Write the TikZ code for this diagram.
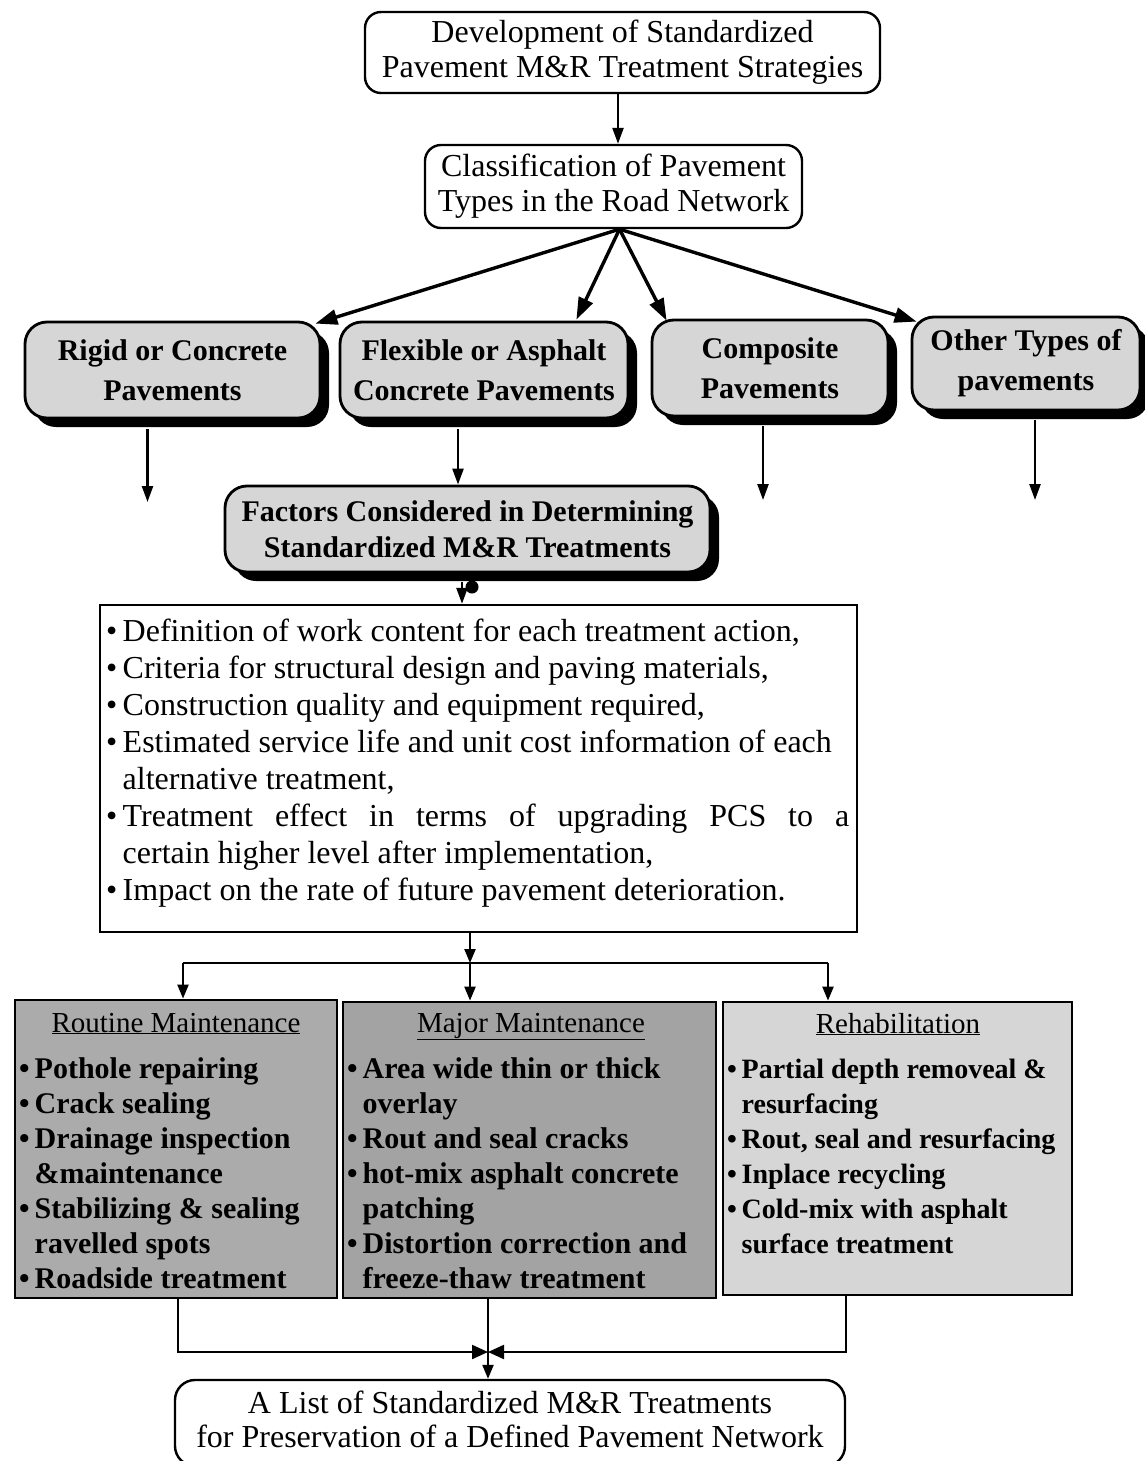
\documentclass[tikz,border=0pt]{standalone}
\usepackage{fontspec}
\setmainfont{Liberation Serif}
\usetikzlibrary{arrows.meta,shadows,calc}

\begin{document}
\begin{tikzpicture}[x=1pt,y=-1pt,
  titlebox/.style={draw, line width=2.4pt, rounded corners=16pt, align=center,
    inner sep=0pt, font=\fontsize{32}{35}\selectfont},
  pavebox/.style={draw, line width=2.8pt, rounded corners=22pt, fill=black!16,
    align=center, inner sep=0pt, font=\bfseries\fontsize{30}{40}\selectfont,
    general shadow={fill=black, shadow xshift=9pt, shadow yshift=-9pt}},
  listbox/.style={draw, line width=2.4pt, inner sep=0pt},
  groupbox/.style={draw, line width=2.8pt, inner sep=0pt},
  headtext/.style={inner sep=0pt, anchor=base, font=\fontsize{29}{34}\selectfont},
  itemtext/.style={inner sep=0pt, align=left, anchor=north west,
    font=\bfseries\fontsize{30}{35}\selectfont},
  arr/.style={line width=2.4pt, -{Triangle[length=16pt,width=11pt]}},
  fanarr/.style={line width=3.4pt, -{Triangle[length=22pt,width=15pt]}},
  thin arr/.style={line width=2.2pt, -{Triangle[length=14pt,width=11pt]}},
  merge arr/.style={line width=2.2pt, -{Triangle[length=16pt,width=14pt]}},
  link/.style={line width=2.2pt}
]
\useasboundingbox (0,0) rectangle (1144,1461);

% ---- top of the chart
\node[titlebox, minimum width=515pt, minimum height=81pt] (dev) at (622.5,52.5)
  {Development of Standardized\\Pavement M\&R Treatment Strategies};
\node[titlebox, minimum width=377pt, minimum height=83pt] (cls) at (613.5,186.5)
  {Classification of Pavement\\Types in the Road Network};

% ---- pavement types
\node[pavebox, minimum width=295pt, minimum height=96pt] (rigid) at (172.5,370)
  {Rigid or Concrete\\Pavements};
\node[pavebox, minimum width=288pt, minimum height=96pt] (flex) at (484,370)
  {Flexible or Asphalt\\Concrete Pavements};
\node[pavebox, minimum width=236pt, minimum height=96pt] (comp) at (770,368)
  {Composite\\Pavements};
\node[pavebox, minimum width=228pt, minimum height=93pt] (other) at (1026,363.5)
  {Other Types of\\pavements};

% ---- factors
\node[pavebox, minimum width=485pt, minimum height=86pt,
  font=\bfseries\fontsize{30}{36}\selectfont] (fac) at (467.5,529)
  {Factors Considered in Determining\\Standardized M\&R Treatments};

\node[listbox, minimum width=757pt, minimum height=327pt] (lst) at (478.5,768.5) {};
\node[inner sep=0pt, anchor=north west, align=left,
  font=\fontsize{32}{37}\selectfont] (lsttext) at (106,619)
  {\textbullet\,Definition of work content for each treatment action,\\
   \textbullet\,Criteria for structural design and paving materials,\\
   \textbullet\,Construction quality and equipment required,\\
   \textbullet\,Estimated service life and unit cost information of each\\
   \hphantom{\textbullet\,}alternative treatment,\\
   \makebox[743pt][s]{\textbullet\,Treatment effect in terms of upgrading PCS to a}\\
   \hphantom{\textbullet\,}certain higher level after implementation,\\
   \textbullet\,Impact on the rate of future pavement deterioration.};

% ---- treatment groups
\node[groupbox, fill=black!33, minimum width=322pt, minimum height=298pt] (routine) at (176,1149) {};
\node[groupbox, fill=black!36, minimum width=373pt, minimum height=296pt] (major) at (529.5,1150) {};
\node[groupbox, fill=black!16, minimum width=349pt, minimum height=293pt] (rehab) at (897.5,1148.5) {};

\node[headtext] (rhead) at (176,1032) {\underline{Routine Maintenance}};
\node[headtext] (mhead) at (531,1032) {\underline{Major Maintenance}};
\node[headtext] (hhead) at (898,1033) {\underline{Rehabilitation}};

\node[itemtext] (ritems) at (19,1057)
  {\textbullet\,Pothole repairing\\
   \textbullet\,Crack sealing\\
   \textbullet\,Drainage inspection\\
   \hphantom{\textbullet\,}\&maintenance\\
   \textbullet\,Stabilizing \& sealing\\
   \hphantom{\textbullet\,}ravelled spots\\
   \textbullet\,Roadside treatment};
\node[itemtext] (mitems) at (347,1057)
  {\textbullet\,Area wide thin or thick\\
   \hphantom{\textbullet\,}overlay\\
   \textbullet\,Rout and seal cracks\\
   \textbullet\,hot-mix asphalt concrete\\
   \hphantom{\textbullet\,}patching\\
   \textbullet\,Distortion correction and\\
   \hphantom{\textbullet\,}freeze-thaw treatment};
\node[itemtext, font=\bfseries\fontsize{28}{35}\selectfont] (hitems) at (727,1059)
  {\textbullet\,Partial depth removeal \&\\
   \hphantom{\textbullet\,}resurfacing\\
   \textbullet\,Rout, seal and resurfacing\\
   \textbullet\,Inplace recycling\\
   \textbullet\,Cold-mix with asphalt\\
   \hphantom{\textbullet\,}surface treatment};

% ---- result
\node[draw, line width=2.4pt, rounded corners=20pt, inner sep=0pt,
  minimum width=670pt, minimum height=86pt] (final) at (510,1423) {};
\node[inner sep=0pt, align=center, font=\fontsize{32}{34}\selectfont] (finaltext)
  at (510,1419)
  {A List of Standardized M\&R Treatments\\for Preservation of a Defined Pavement Network};

% ---- connectors
\draw[arr] ($(dev.south)+(-4.5,0)$) -- ($(cls.north)+(4.5,0)$);

\coordinate (fan) at ($(cls.south)+(6,0)$);
\draw[fanarr] (fan) -- ($(rigid.north east)+(-6,3)$);
\draw[fanarr] (fan) -- ($(flex.north east)+(-53,-1)$);
\draw[fanarr] (fan) -- ($(comp.north west)+(16,2)$);
\draw[fanarr] (fan) -- ($(other.north west)+(6,6)$);

\coordinate (rigidend) at (147.5,502);
\coordinate (compend) at (763,500);
\coordinate (otherend) at (1035,500);
\draw[arr] ($(rigid.south)+(-25,10)$) -- (rigidend);
\draw[arr] ($(flex.south)+(-26,10)$) -- ($(fac.north)+(-9.5,0)$);
\draw[arr] ($(comp.south)+(-7,9)$) -- (compend);
\draw[arr] ($(other.south)+(9,9)$) -- (otherend);

\draw[arr] ($(fac.south)+(-5.5,9)$) -- ($(lst.north)+(-16.5,0)$);
\node[circle, fill, minimum size=13pt, inner sep=0pt] (blot) at (472,587) {};

\coordinate (jc) at (470,963);
\coordinate (jl) at (183,963);
\coordinate (jr) at (828,963);
\draw[thin arr] ($(lst.south)+(-8.5,0)$) -- (jc);
\draw[link] (jl) -- (jr);
\draw[thin arr] (jl) -- (routine.north -| jl);
\draw[thin arr] (jc) -- (major.north -| jc);
\draw[thin arr] (jr) -- (rehab.north -| jr);

\coordinate (bl) at (178,1352);
\coordinate (br) at (846,1352);
\coordinate (bm) at (488,1352);
\draw[merge arr] (routine.south -| bl) -- (bl) -- (bm);
\draw[merge arr] (rehab.south -| br) -- (br) -- (bm);
\draw[thin arr] (major.south -| bm) -- (final.north -| bm);
\end{tikzpicture}
\end{document}
